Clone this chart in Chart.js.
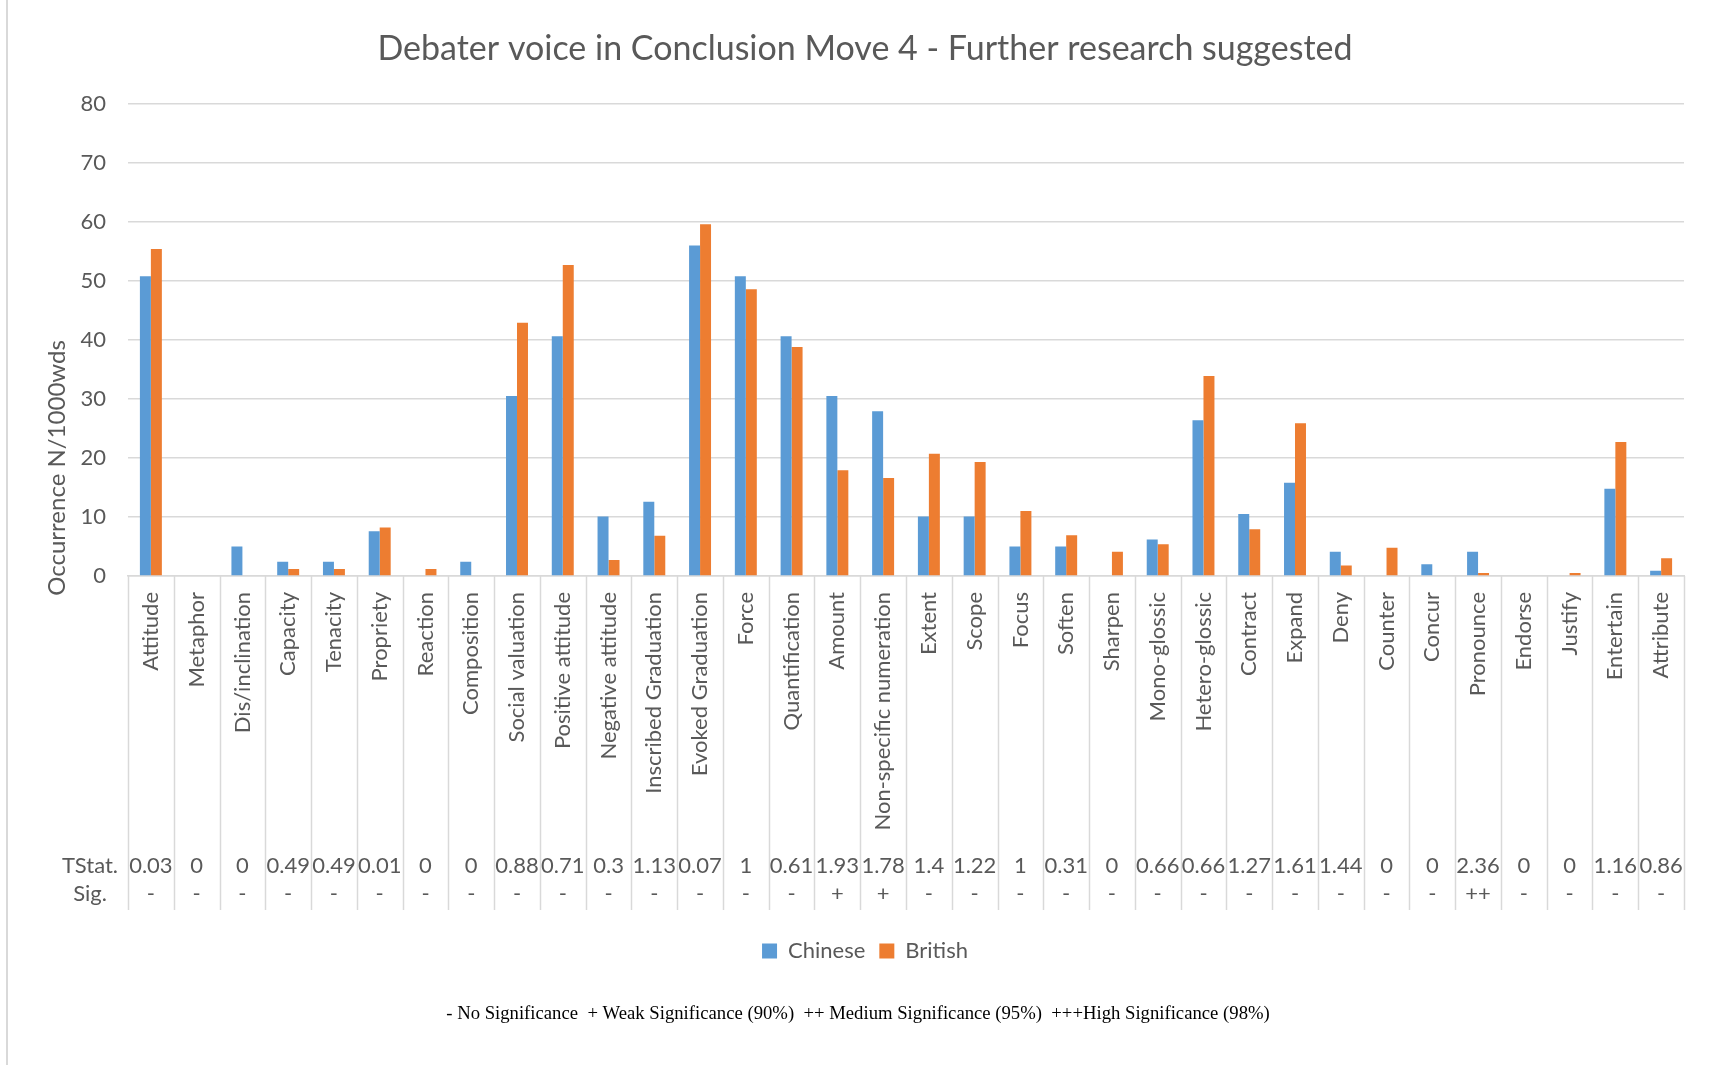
<!DOCTYPE html>
<html>
<head>
<meta charset="utf-8">
<title>Debater voice in Conclusion Move 4</title>
<script src="https://cdn.jsdelivr.net/npm/chart.js@4.4.1/dist/chart.umd.min.js"></script>
<style>
    body { margin: 0; background: #fff; }
    #wrap { width: 1712px; height: 1065px; position: relative; }
</style>
</head>
<body>
<div id="wrap"><canvas id="chart" width="1712" height="1065"></canvas></div>
<script>
// Chart data
const categories = [
    'Attitude', 'Metaphor', 'Dis/inclination', 'Capacity', 'Tenacity', 'Propriety',
    'Reaction', 'Composition', 'Social valuation', 'Positive attitude', 'Negative attitude',
    'Inscribed Graduation', 'Evoked Graduation', 'Force', 'Quantification', 'Amount',
    'Non-specific numeration', 'Extent', 'Scope', 'Focus', 'Soften', 'Sharpen',
    'Mono-glossic', 'Hetero-glossic', 'Contract', 'Expand', 'Deny', 'Counter', 'Concur',
    'Pronounce', 'Endorse', 'Justify', 'Entertain', 'Attribute'
];
const chinese = [50.8, 0, 5.0, 2.4, 2.4, 7.6, 0, 2.4, 30.5, 40.6, 10.1, 12.6, 56.0, 50.8, 40.6, 30.5,
    27.9, 10.1, 10.1, 5.0, 5.0, 0, 6.2, 26.4, 10.5, 15.8, 4.1, 0, 2.0, 4.1, 0, 0, 14.8, 0.9];
const british = [55.4, 0, 0, 1.2, 1.2, 8.2, 1.2, 0, 42.9, 52.7, 2.7, 6.8, 59.6, 48.6, 38.8, 17.9,
    16.6, 20.7, 19.3, 11.0, 6.9, 4.1, 5.4, 33.9, 7.9, 25.9, 1.8, 4.8, 0, 0.5, 0, 0.5, 22.7, 3.0];
const tStat = [0.03, 0, 0, 0.49, 0.49, 0.01, 0, 0, 0.88, 0.71, 0.3, 1.13, 0.07, 1, 0.61, 1.93,
    1.78, 1.4, 1.22, 1, 0.31, 0, 0.66, 0.66, 1.27, 1.61, 1.44, 0, 0, 2.36, 0, 0, 1.16, 0.86];
const sig = ['-', '-', '-', '-', '-', '-', '-', '-', '-', '-', '-', '-', '-', '-', '-', '+',
    '+', '-', '-', '-', '-', '-', '-', '-', '-', '-', '-', '-', '-', '++', '-', '-', '-', '-'];
const yTicks = [0, 10, 20, 30, 40, 50, 60, 70, 80];

const FONT = 'Lato, "Open Sans", sans-serif';
const TEXT = '#595959';
const GRID = '#d9d9d9';
const AXIS_Y = 576;
const TABLE_BOTTOM = 910;

// Draws the data table under the axis, the y title, footnote and frame
const tablePlugin = {
    id: 'tablePlugin',
    afterDraw(chart) {
        const ctx = chart.ctx;
        const xs = chart.scales.x;
        const area = chart.chartArea;
        const step = xs.width / categories.length;

        ctx.save();
        // left frame line
        ctx.strokeStyle = GRID;
        ctx.lineWidth = 2;
        ctx.beginPath();
        ctx.moveTo(7, 0);
        ctx.lineTo(7, 1065);
        ctx.stroke();

        // table column separators
        ctx.lineWidth = 1.5;
        for (let i = 0; i <= categories.length; i++) {
            const x = Math.round(xs.left + i * step) + 0.5;
            ctx.beginPath();
            ctx.moveTo(x, area.bottom);
            ctx.lineTo(x, TABLE_BOTTOM);
            ctx.stroke();
        }

        // table values
        ctx.fillStyle = TEXT;
        ctx.font = '22px ' + FONT;
        ctx.textAlign = 'center';
        ctx.textBaseline = 'middle';
        ctx.fillText('TStat.', 90, 866);
        ctx.fillText('Sig.', 90, 894);
        tStat.forEach((t, i) => {
            const x = xs.getPixelForValue(i);
            ctx.fillText(String(t), x, 866);
            ctx.fillText(sig[i], x, 894);
        });

        // y axis title
        ctx.save();
        ctx.translate(57, 468);
        ctx.rotate(-Math.PI / 2);
        ctx.font = '24px ' + FONT;
        ctx.fillText('Occurrence N/1000wds', 0, 0);
        ctx.restore();

        // footnote
        ctx.fillStyle = '#000';
        ctx.font = '18.7px "Liberation Serif", "Times New Roman", serif';
        ctx.fillText('- No Significance  + Weak Significance (90%)  ++ Medium Significance (95%)  +++High Significance (98%)', 858, 1014);
        ctx.restore();
    }
};

const ctx = document.getElementById('chart').getContext('2d');
const chart = new Chart(ctx, {
    type: 'bar',
    data: {
        labels: categories,
        datasets: [
            { label: 'Chinese', data: chinese, backgroundColor: '#5b9bd5' },
            { label: 'British', data: british, backgroundColor: '#ed7d31' }
        ]
    },
    options: {
        responsive: false,
        animation: false,
        devicePixelRatio: 1,
        layout: { padding: { left: 46, right: 28, top: 0, bottom: 93 } },
        datasets: {
            bar: { categoryPercentage: 0.48, barPercentage: 1.0 }
        },
        plugins: {
            title: {
                display: true,
                text: 'Debater voice in Conclusion Move 4 - Further research suggested',
                color: TEXT,
                font: { family: FONT, size: 34, weight: 'normal' },
                padding: { top: 29, bottom: 34 }
            },
            legend: {
                position: 'bottom',
                labels: {
                    color: TEXT,
                    font: { family: FONT, size: 22 },
                    boxWidth: 15,
                    boxHeight: 15,
                    padding: 14
                }
            },
            tooltip: { enabled: false }
        },
        scales: {
            x: {
                grid: { display: false },
                border: { display: true, color: GRID, width: 1.5 },
                ticks: {
                    color: TEXT,
                    font: { family: FONT, size: 22 },
                    autoSkip: false,
                    minRotation: 90,
                    maxRotation: 90,
                    padding: 8
                },
                afterFit(scale) { scale.height = 350; }
            },
            y: {
                min: 0,
                max: 80,
                afterBuildTicks(scale) { scale.ticks = yTicks.map(v => ({ value: v })); },
                grid: { color: GRID, lineWidth: 1.5, drawTicks: false },
                border: { display: false },
                ticks: {
                    color: TEXT,
                    font: { family: FONT, size: 22 },
                    padding: 22
                },
                afterFit(scale) { scale.width = 82; }
            }
        }
    },
    plugins: [tablePlugin]
});
</script>
</body>
</html>
